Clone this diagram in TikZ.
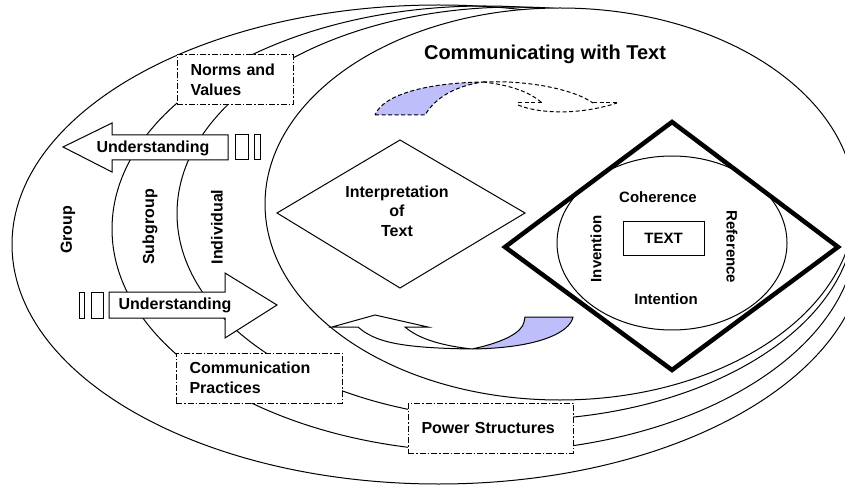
\documentclass[tikz,border=0pt]{standalone}
\usepackage{fontspec}
\setmainfont{Liberation Sans}
\usetikzlibrary{positioning}
\definecolor{arrowblue}{RGB}{190,190,250}

\begin{document}
\begin{tikzpicture}[x=10pt,y=-10pt,line width=1pt,
  lbl/.style={font=\fontsize{16}{19.5}\selectfont\bfseries},
  smalllbl/.style={font=\fontsize{15}{18}\selectfont\bfseries},
  tagbox/.style={draw,fill=white,dash pattern=on 6pt off 2pt on 1.5pt off 2pt,
    minimum height=50pt,inner xsep=13.5pt,align=left,lbl},
  behind/.style={dash pattern=on 4pt off 2.5pt}]
\useasboundingbox (0,0) rectangle (84.5,48.6);
\clip (0,0) rectangle (84.5,48.6);

% Group, Subgroup, Individual
\draw (43.85,24.45) ellipse [x radius=42.65, y radius=23.95];
\draw (48.45,22.9) ellipse [x radius=37.25, y radius=22.3];
\draw (51.6,21.35) ellipse [x radius=33.9, y radius=20.65];
% Communicating with Text
\draw[fill=white] (56.0,20.4) ellipse [x radius=29.5, y radius=19.6];

\node[lbl,rotate=90] (grouplbl) at (6.8,23.0) {Group};
\node[lbl,rotate=90] (subgrouplbl) at (15.0,22.7) {Subgroup};
\node[lbl,rotate=90] (indivlbl) at (21.7,22.7) {Individual};

% Understanding arrows
\draw[fill=white] (6.3,14.7) -- (11.2,12.3) -- (11.2,13.5) -- (22.8,13.5) -- (22.8,16.0)
  -- (11.2,16.0) -- (11.2,17.2) -- cycle;
\node[lbl] (undleft) at (15.3,14.8) {Understanding};
\draw[fill=white] (23.5,13.5) rectangle (24.8,16.0);
\draw[fill=white] (25.4,13.5) rectangle (26.0,16.0);

\draw[fill=white] (27.7,30.5) -- (22.5,27.3) -- (22.5,29.2) -- (10.9,29.2) -- (10.9,31.8)
  -- (22.5,31.8) -- (22.5,33.8) -- cycle;
\node[lbl] (undright) at (17.5,30.5) {Understanding};
\draw[fill=white] (7.9,29.2) rectangle (8.4,31.8);
\draw[fill=white] (9.1,29.2) rectangle (10.3,31.8);

% dash-dot boxes
\node[tagbox,text width=89pt] (normsbox) at (23.5,8.0) {Norms and\\Values};
\node[tagbox,text width=139pt] (practicesbox) at (25.9,37.8) {Communication\\Practices};
\node[tagbox,text width=138pt] (powerbox) at (49.05,42.8) {Power Structures};

\node[font=\fontsize{20}{24}\selectfont\bfseries] (title) at (54.5,5.4) {Communicating with Text};

% Interpretation
\draw[fill=white] (27.7,21.3) -- (40.0,14.0) -- (52.5,21.3) -- (40.0,28.8) -- cycle;
\node[lbl,align=center] (interp) at (39.7,21.1) {Interpretation\\of\\Text};

% curved arrow, top
\draw[behind,fill=arrowblue] (37.5,11.5) -- (42.5,11.5) .. controls (43.5,9.8) and (45.5,8.6) .. (48.3,8.2)
  .. controls (42.5,8.3) and (38.3,9.5) .. cycle;
\draw[behind] (48.3,8.2) .. controls (53,8.0) and (57.5,9.0) .. (59.3,10.3);
\draw[behind] (48.3,8.2) .. controls (51,8.5) and (53,9.2) .. (54.2,10.3);
\draw[behind] (51.8,10.3) -- (54.2,10.3);
\draw[behind] (59.3,10.3) -- (61.7,10.3);
\draw[behind] (51.8,10.5) .. controls (54,11.4) and (58,11.5) .. (61.7,10.3);

% curved arrow, bottom
\draw[fill=arrowblue] (47.2,34.9) .. controls (50.5,34.2) and (52.2,33.2) .. (52.4,32.2) -- (52.5,31.7)
  -- (57.3,31.7) .. controls (57,33.2) and (54,34.8) .. cycle;
\draw[fill=white] (33.2,32.7) -- (37.5,31.5) -- (42.8,32.7) -- (40.5,32.7)
  .. controls (42,34.0) and (44.5,34.6) .. (47.2,34.9)
  .. controls (40,34.8) and (37.5,34.2) .. (35.8,32.7) -- cycle;

% TEXT
\draw (67.2,24.3) ellipse [x radius=11.5, y radius=8.7];
\draw[line width=4.5pt] (50.5,24.7) -- (67.2,12.2) -- (83.8,24.7) -- (67.2,37.0) -- cycle;
\node[draw,smalllbl,minimum width=81pt,minimum height=33pt,inner sep=0pt] (textbox) at (66.35,23.85) {TEXT};
\node[smalllbl] (coher) at (65.8,19.7) {Coherence};
\node[smalllbl] (intent) at (66.6,29.9) {Intention};
\node[smalllbl,rotate=90] (invent) at (59.6,24.9) {Invention};
\node[smalllbl,rotate=-90] (refer) at (73.2,24.7) {Reference};
\end{tikzpicture}
\end{document}
